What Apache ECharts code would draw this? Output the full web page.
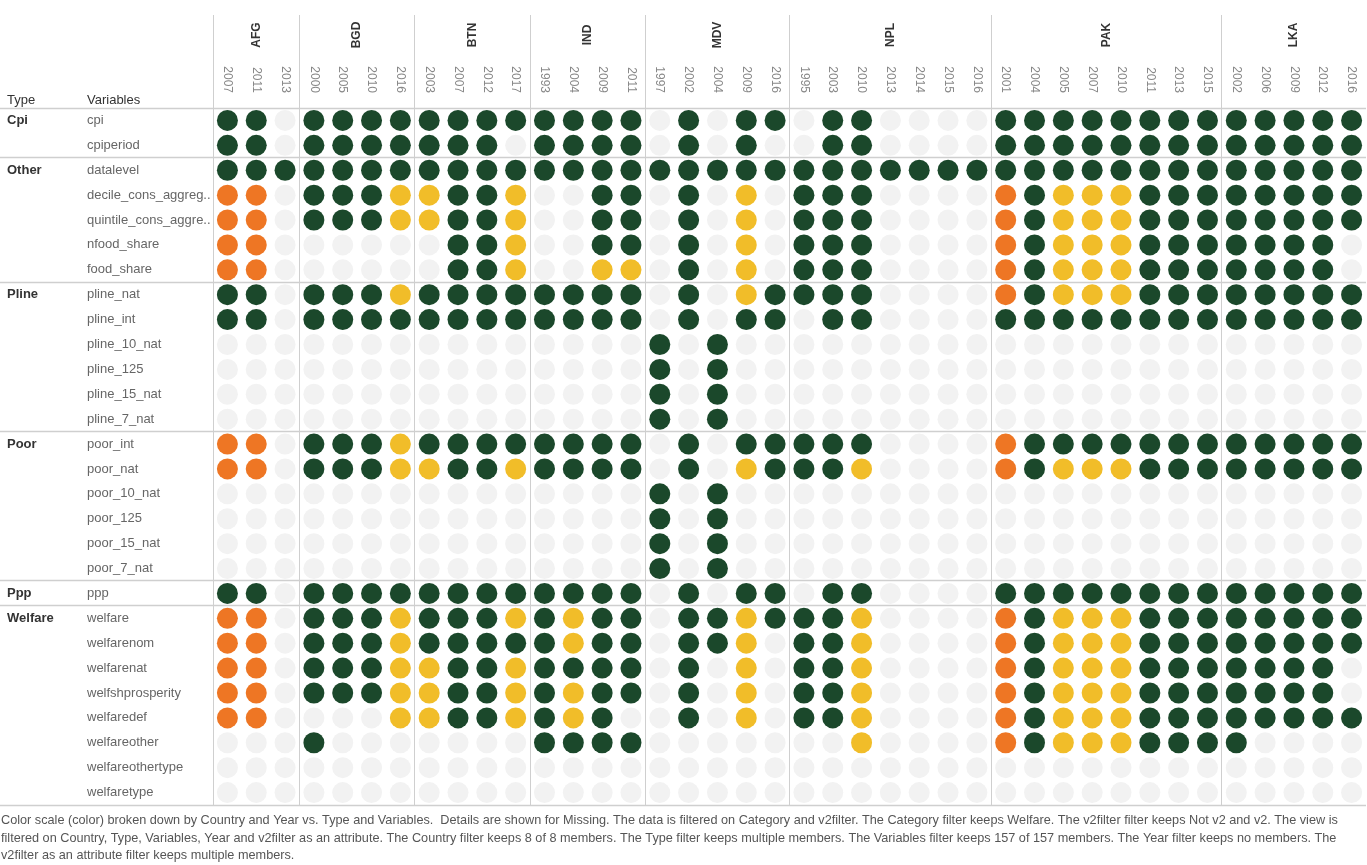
<!DOCTYPE html>
<html><head><meta charset="utf-8">
<script src="https://cdn.jsdelivr.net/npm/echarts@6/dist/echarts.min.js"></script>
<style>html,body{margin:0;padding:0;background:#fff}#c{width:1367px;height:865px}</style>
</head><body><div id="c"></div>
<script>
// ---- DATA ----
const countries = ['AFG', 'BGD', 'BTN', 'IND', 'MDV', 'NPL', 'PAK', 'LKA'];
const yearsAFG = ['2007', '2011', '2013'];
const yearsBGD = ['2000', '2005', '2010', '2016'];
const yearsBTN = ['2003', '2007', '2012', '2017'];
const yearsIND = ['1993', '2004', '2009', '2011'];
const yearsMDV = ['1997', '2002', '2004', '2009', '2016'];
const yearsNPL = ['1995', '2003', '2010', '2013', '2014', '2015', '2016'];
const yearsPAK = ['2001', '2004', '2005', '2007', '2010', '2011', '2013', '2015'];
const yearsLKA = ['2002', '2006', '2009', '2012', '2016'];
const countryYears = [yearsAFG, yearsBGD, yearsBTN, yearsIND, yearsMDV, yearsNPL, yearsPAK, yearsLKA];

const types = ['Cpi', 'Other', 'Pline', 'Poor', 'Ppp', 'Welfare'];
const varsCpi = ['cpi', 'cpiperiod'];
const varsOther = ['datalevel', 'decile_cons_aggreg..', 'quintile_cons_aggre..', 'nfood_share', 'food_share'];
const varsPline = ['pline_nat', 'pline_int', 'pline_10_nat', 'pline_125', 'pline_15_nat', 'pline_7_nat'];
const varsPoor = ['poor_int', 'poor_nat', 'poor_10_nat', 'poor_125', 'poor_15_nat', 'poor_7_nat'];
const varsPpp = ['ppp'];
const varsWelfare = ['welfare', 'welfarenom', 'welfarenat', 'welfshprosperity', 'welfaredef', 'welfareother', 'welfareothertype', 'welfaretype'];
const typeVariables = [varsCpi, varsOther, varsPline, varsPoor, varsPpp, varsWelfare];

// colour-scale class per cell: G = dark green, Y = yellow, O = orange, . = missing
// columns grouped by country (AFG BGD BTN IND MDV NPL PAK LKA)
const cellCodes = [
  'GG. GGGG GGGG GGGG .G.GG .GG.... GGGGGGGG GGGGG', // cpi
  'GG. GGGG GGG. GGGG .G.G. .GG.... GGGGGGGG GGGGG', // cpiperiod
  'GGG GGGG GGGG GGGG GGGGG GGGGGGG GGGGGGGG GGGGG', // datalevel
  'OO. GGGY YGGY ..GG .G.Y. GGG.... OGYYYGGG GGGGG', // decile_cons_aggreg..
  'OO. GGGY YGGY ..GG .G.Y. GGG.... OGYYYGGG GGGGG', // quintile_cons_aggre..
  'OO. .... .GGY ..GG .G.Y. GGG.... OGYYYGGG GGGG.', // nfood_share
  'OO. .... .GGY ..YY .G.Y. GGG.... OGYYYGGG GGGG.', // food_share
  'GG. GGGY GGGG GGGG .G.YG GGG.... OGYYYGGG GGGGG', // pline_nat
  'GG. GGGG GGGG GGGG .G.GG .GG.... GGGGGGGG GGGGG', // pline_int
  '... .... .... .... G.G.. ....... ........ .....', // pline_10_nat
  '... .... .... .... G.G.. ....... ........ .....', // pline_125
  '... .... .... .... G.G.. ....... ........ .....', // pline_15_nat
  '... .... .... .... G.G.. ....... ........ .....', // pline_7_nat
  'OO. GGGY GGGG GGGG .G.GG GGG.... OGGGGGGG GGGGG', // poor_int
  'OO. GGGY YGGY GGGG .G.YG GGY.... OGYYYGGG GGGGG', // poor_nat
  '... .... .... .... G.G.. ....... ........ .....', // poor_10_nat
  '... .... .... .... G.G.. ....... ........ .....', // poor_125
  '... .... .... .... G.G.. ....... ........ .....', // poor_15_nat
  '... .... .... .... G.G.. ....... ........ .....', // poor_7_nat
  'GG. GGGG GGGG GGGG .G.GG .GG.... GGGGGGGG GGGGG', // ppp
  'OO. GGGY GGGY GYGG .GGYG GGY.... OGYYYGGG GGGGG', // welfare
  'OO. GGGY GGGG GYGG .GGY. GGY.... OGYYYGGG GGGGG', // welfarenom
  'OO. GGGY YGGY GGGG .G.Y. GGY.... OGYYYGGG GGGG.', // welfarenat
  'OO. GGGY YGGY GYGG .G.Y. GGY.... OGYYYGGG GGGG.', // welfshprosperity
  'OO. ...Y YGGY GYG. .G.Y. GGY.... OGYYYGGG GGGGG', // welfaredef
  '... G... .... GGGG ..... ..Y.... OGYYYGGG G....', // welfareother
  '... .... .... .... ..... ....... ........ .....', // welfareothertype
  '... .... .... .... ..... ....... ........ .....'  // welfaretype
];

const footerLines = [
  'Color scale (color) broken down by Country and Year vs. Type and Variables.  Details are shown for Missing. The data is filtered on Category and v2filter. The Category filter keeps Welfare. The v2filter filter keeps Not v2 and v2. The view is',
  'filtered on Country, Type, Variables, Year and v2filter as an attribute. The Country filter keeps 8 of 8 members. The Type filter keeps multiple members. The Variables filter keeps 157 of 157 members. The Year filter keeps no members. The',
  'v2filter as an attribute filter keeps multiple members.'
];

// ---- BUILD ----
const FONT = '"Liberation Sans", Arial, sans-serif';
const classCodes = ['.', 'G', 'Y', 'O'];
const classColors = ['#f2f2f2', '#1b482b', '#f1bd29', '#ee7624'];

const xCats = [];
countries.forEach((c, i) => countryYears[i].forEach(y => xCats.push(c + '|' + y)));
const yCats = [].concat(...typeVariables);

const series = classCodes.map((code, k) => {
  const data = [];
  cellCodes.forEach((row, r) => {
    const s = row.replace(/ /g, '');
    for (let i = 0; i < s.length; i++) if (s[i] === code) data.push([xCats[i], yCats[r]]);
  });
  return {
    type: 'scatter', name: code, data: data, symbol: 'circle', symbolSize: 21,
    itemStyle: { color: classColors[k], opacity: 1 }, silent: true, animation: false
  };
});

const chart = echarts.init(document.getElementById('c'), null, { renderer: 'canvas' });
const option = {
  backgroundColor: '#fff',
  animation: false,
  grid: { left: 213, right: 1, top: 108, bottom: 60, containLabel: false },
  xAxis: {
    type: 'category', data: xCats, position: 'top',
    axisLine: { show: false }, axisTick: { show: false }, splitLine: { show: false },
    axisLabel: {
      interval: 0, rotate: 90, margin: 15, color: '#888', fontSize: 12, fontFamily: FONT,
      formatter: v => v.split('|')[1]
    }
  },
  yAxis: {
    type: 'category', data: yCats, inverse: true,
    axisLine: { show: false }, axisTick: { show: false }, splitLine: { show: false },
    axisLabel: { interval: 0, align: 'left', margin: 126, color: '#666', fontSize: 13, fontFamily: FONT }
  },
  series: series
};
chart.setOption(option);

// ---- Decorations positioned from the axes ----
const px = i => chart.convertToPixel({ xAxisIndex: 0 }, xCats[i]);
const py = j => chart.convertToPixel({ yAxisIndex: 0 }, yCats[j]);
const bw = px(1) - px(0);
const bh = py(1) - py(0);
const gTop = py(0) - bh / 2;
const gBottom = py(yCats.length - 1) + bh / 2;
const gRight = px(xCats.length - 1) + bw / 2;
const snap = v => Math.round(v - 0.5) + 0.5;
const lineColor = '#cfcfcf';
const elements = [];

// vertical country separators
let start = 0;
const countryStarts = [];
countries.forEach((c, i) => { countryStarts.push(start); start += countryYears[i].length; });
countries.forEach((c, i) => {
  const s = countryStarts[i];
  const e = s + countryYears[i].length - 1;
  const x = snap(px(s) - bw / 2);
  elements.push({ type: 'line', silent: true, z: 1, shape: { x1: x, y1: 15, x2: x, y2: gBottom }, style: { stroke: lineColor, lineWidth: 1 } });
  elements.push({
    type: 'text', silent: true, x: (px(s) + px(e)) / 2, y: 35, rotation: Math.PI / 2,
    style: { text: c, x: 0, y: 0, align: 'center', verticalAlign: 'middle', fill: '#333', font: 'bold 12px ' + FONT }
  });
});

// horizontal group separators and type labels
let rs = 0;
const hLines = [gTop];
types.forEach((t, i) => {
  elements.push({
    type: 'text', silent: true, x: 7, y: py(rs),
    style: { text: t, x: 0, y: 0, align: 'left', verticalAlign: 'middle', fill: '#333', font: 'bold 13px ' + FONT }
  });
  rs += typeVariables[i].length;
  hLines.push(py(rs - 1) + bh / 2);
});
hLines.forEach(y => {
  const yy = snap(y);
  elements.push({ type: 'line', silent: true, z: 1, shape: { x1: 0, y1: yy, x2: gRight, y2: yy }, style: { stroke: lineColor, lineWidth: 1.5 } });
});

// header titles
elements.push({ type: 'text', silent: true, x: 7, y: 100, style: { text: 'Type', x: 0, y: 0, align: 'left', verticalAlign: 'middle', fill: '#333', font: '13px ' + FONT } });
elements.push({ type: 'text', silent: true, x: 87, y: 100, style: { text: 'Variables', x: 0, y: 0, align: 'left', verticalAlign: 'middle', fill: '#333', font: '13px ' + FONT } });

// footer
const footerY = [820, 838, 855];
footerLines.forEach((t, i) => {
  elements.push({ type: 'text', silent: true, x: 1, y: footerY[i], style: { text: t, x: 0, y: 0, align: 'left', verticalAlign: 'middle', fill: '#555', font: '12.7px ' + FONT } });
});

chart.setOption({ graphic: { elements: elements } });
</script>
</body></html>
